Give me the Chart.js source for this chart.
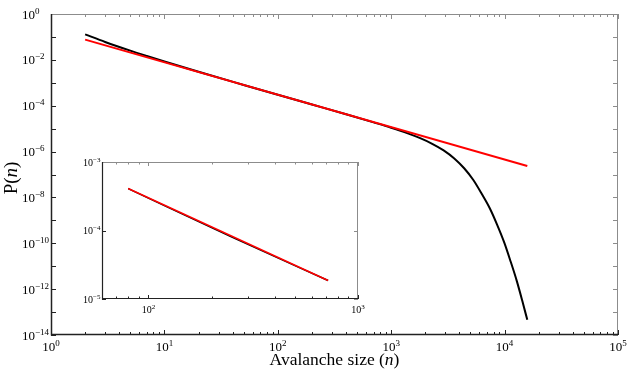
<!DOCTYPE html>
<html>
<head>
<meta charset="utf-8">
<script src="https://cdn.jsdelivr.net/npm/chart.js@4.4.0/dist/chart.umd.min.js"></script>
<style>
  html, body { margin: 0; padding: 0; background: #fff; }
  #wrap { position: relative; width: 629px; height: 375px; }
  #inset { position: absolute; left: 70px; top: 150px; }
</style>
</head>
<body>
<div id="wrap">
  <canvas id="main" width="629" height="375"></canvas>
  <canvas id="inset" width="300" height="175"></canvas>
</div>
<script>
// avalanche size distribution (black) and power-law fit (red)
const sizeN = [2, 3, 5, 7, 10, 20, 50, 100, 200, 400, 700, 1000, 1400, 1800, 2300, 2900,
               3600, 4400, 5300, 6300, 7400, 8600, 9900, 11300, 12800, 14300, 15850];
const probP = [0.129, 0.0604, 0.0252, 0.0147, 8.45e-3, 3.01e-3, 8.07e-4, 3.01e-4, 1.13e-4,
               4.25e-5, 1.87e-5, 1.09e-5, 6.22e-6, 3.84e-6, 2.19e-6, 1.13e-6, 5.02e-7,
               1.87e-7, 5.73e-8, 1.40e-8, 3.37e-9, 6.38e-10, 1.12e-10, 1.61e-11, 2.30e-12,
               3.19e-13, 4.57e-14];
const fitN = [2, 15850];
const fitP = [0.076, 2.35e-7];

// inset
const insetN = [80, 250, 720];
const insetP = [4.08e-4, 8.0e-5, 1.86e-5];
const insetFitN = [80, 720];
const insetFitP = [4.1e-4, 1.86e-5];

// tick labels (powers of ten)
const xTickExp = [0, 1, 2, 3, 4, 5];
const yTickExp = [0, -2, -4, -6, -8, -10, -12, -14];
const insetXTickExp = [2, 3];
const insetYTickExp = [-3, -4, -5];

const pts = (xs, ys) => xs.map((v, i) => ({ x: v, y: ys[i] }));
const SERIF = '"Liberation Serif", "DejaVu Serif", serif';

function drawPow(ctx, e, x, y, f, align) {
  ctx.font = f.base;
  const wb = ctx.measureText('10').width;
  const s = String(e).replace('-', '\u2212');
  ctx.font = f.sup;
  const ws = ctx.measureText(s).width;
  const x0 = align === 'center' ? x - (wb + ws) / 2 : x;
  ctx.font = f.base;
  ctx.fillText('10', x0, y);
  ctx.font = f.sup;
  ctx.fillText(s, x0 + wb, y - f.rise);
}

function drawMixed(ctx, parts, size, cx, cy) {
  const fs = size + 'px ' + SERIF;
  let w = 0;
  parts.forEach(p => { ctx.font = p[1] + ' ' + fs; w += ctx.measureText(p[0]).width; });
  let x = cx - w / 2;
  parts.forEach(p => { ctx.font = p[1] + ' ' + fs; ctx.fillText(p[0], x, cy); x += ctx.measureText(p[0]).width; });
}

// frame, inward ticks and 10^k labels, MATLAB style
const framePlugin = {
  id: 'frame',
  afterDraw(chart, args, o) {
    const { ctx, chartArea: a, scales: { x, y } } = chart;
    ctx.save();
    ctx.lineWidth = 1;
    const line = (x1, y1, x2, y2, c) => {
      ctx.strokeStyle = c;
      ctx.beginPath(); ctx.moveTo(x1, y1); ctx.lineTo(x2, y2); ctx.stroke();
    };
    // x ticks
    for (let e = Math.floor(Math.log10(x.min)); e <= Math.ceil(Math.log10(x.max)); e++) {
      for (let m = 1; m < 10; m++) {
        const v = m * Math.pow(10, e);
        if (v < x.min * 0.999 || v > x.max * 1.001) continue;
        const px = Math.round(x.getPixelForValue(v)) + 0.5;
        const len = m === 1 ? o.major : o.minor;
        line(px, a.bottom, px, a.bottom - len, o.dark);
        line(px, a.top, px, a.top + len, o.grey);
      }
    }
    // y ticks, one per decade
    for (let e = Math.ceil(Math.log10(y.min)); e <= Math.floor(Math.log10(y.max)); e++) {
      const py = Math.round(y.getPixelForValue(Math.pow(10, e))) + 0.5;
      line(a.left, py, a.left + o.major, py, o.dark);
      line(a.right, py, a.right - o.major, py, o.grey);
    }
    // box
    line(a.left, a.top + 0.5, a.right, a.top + 0.5, o.grey);
    line(a.right - 0.5, a.top, a.right - 0.5, a.bottom, o.grey);
    ctx.lineWidth = o.axisWidth;
    line(a.left + 0.5, a.top, a.left + 0.5, a.bottom + 0.5, o.dark);
    line(a.left, a.bottom - 0.5, a.right, a.bottom - 0.5, o.dark);

    // labels
    ctx.fillStyle = '#000';
    ctx.textBaseline = 'alphabetic';
    ctx.textAlign = 'left';
    const f = { base: o.fontSize + 'px ' + SERIF, sup: o.supSize + 'px ' + SERIF, rise: o.rise };
    o.xLabels.forEach(e => drawPow(ctx, e, x.getPixelForValue(Math.pow(10, e)), o.xLabelY, f, 'center'));
    o.yLabels.forEach(e => drawPow(ctx, e, o.yLabelX, y.getPixelForValue(Math.pow(10, e)) + o.yShift, f, 'left'));

    if (o.xTitle) {
      drawMixed(ctx, [['Avalanche size (', 'normal'], ['n', 'italic'], [')', 'normal']],
        o.titleSize, (a.left + a.right) / 2, o.xTitleY);
    }
    if (o.yTitle) {
      ctx.translate(o.yTitleX, o.yTitleY);
      ctx.rotate(-Math.PI / 2);
      drawMixed(ctx, [['P(', 'normal'], ['n', 'italic'], [')', 'normal']], o.yTitleSize, 0, 0);
    }
    ctx.restore();
  }
};

function logScale(min, max) {
  return { type: 'logarithmic', min: min, max: max, display: false };
}

new Chart(document.getElementById('main'), {
  type: 'line',
  data: {
    datasets: [
      { data: pts(fitN, fitP), borderColor: '#ff0000', borderWidth: 2, pointRadius: 0, order: 0 },
      { data: pts(sizeN, probP), borderColor: '#000000', borderWidth: 2, pointRadius: 0,
        cubicInterpolationMode: 'monotone', order: 1 }
    ]
  },
  options: {
    responsive: false,
    animation: false,
    layout: { padding: { left: 51, top: 14, right: 11, bottom: 40 } },
    scales: { x: logScale(1, 1e5), y: logScale(1e-14, 1) },
    plugins: {
      legend: { display: false },
      tooltip: { enabled: false },
      frame: {
        major: 5, minor: 3, dark: '#222', grey: '#8c8c8c', axisWidth: 1.5,
        fontSize: 13, supSize: 9, rise: 5,
        xLabels: xTickExp, yLabels: yTickExp, xLabelY: 351, yLabelX: 22, yShift: 4.5,
        titleSize: 17.5, xTitle: true, xTitleY: 365,
        yTitle: true, yTitleSize: 19, yTitleX: 17, yTitleY: 178
      }
    }
  },
  plugins: [framePlugin]
});

new Chart(document.getElementById('inset'), {
  type: 'line',
  data: {
    datasets: [
      { data: pts(insetFitN, insetFitP), borderColor: '#ff0000', borderWidth: 1.5, pointRadius: 0, order: 0 },
      { data: pts(insetN, insetP), borderColor: '#000000', borderWidth: 1.5, pointRadius: 0,
        cubicInterpolationMode: 'monotone', order: 1 }
    ]
  },
  options: {
    responsive: false,
    animation: false,
    layout: { padding: { left: 32, top: 12, right: 12, bottom: 26 } },
    scales: { x: logScale(60, 1000), y: logScale(1e-5, 1e-3) },
    plugins: {
      legend: { display: false },
      tooltip: { enabled: false },
      frame: {
        major: 4, minor: 2.5, dark: '#222', grey: '#8c8c8c', axisWidth: 1.2,
        fontSize: 10, supSize: 7, rise: 4,
        xLabels: insetXTickExp, yLabels: insetYTickExp, xLabelY: 163, yLabelX: 13, yShift: 3.5
      }
    }
  },
  plugins: [framePlugin]
});
</script>
</body>
</html>
